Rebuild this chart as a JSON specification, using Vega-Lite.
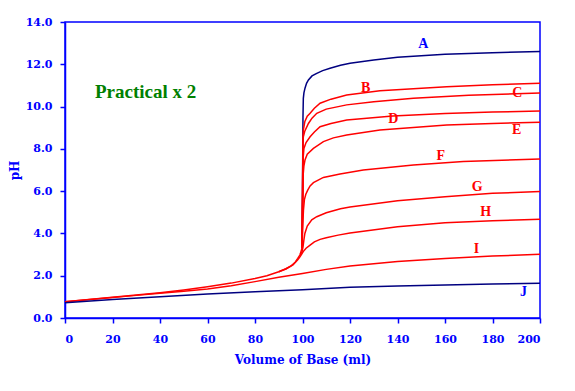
{
  "$schema": "https://vega.github.io/schema/vega-lite/v6.json",
  "width": 475,
  "height": 296,
  "autosize": {"type": "none"},
  "padding": {"left": 65, "top": 22, "right": 35, "bottom": 73},
  "background": "white",
  "config": {
    "view": {"stroke": "#0000ff", "strokeWidth": 1.5},
    "axis": {
      "grid": false,
      "domainColor": "#0000ff",
      "domainWidth": 1.5,
      "tickColor": "#0000ff",
      "tickWidth": 1.5,
      "tickSize": 5,
      "labelColor": "#0000ff",
      "titleColor": "#0000ff",
      "labelFont": "DejaVu Serif",
      "labelFontWeight": "bold",
      "labelFontSize": 11,
      "titleFont": "DejaVu Serif",
      "titleFontWeight": "bold",
      "titleFontSize": 12
    }
  },
  "datasets": {
    "curves": [
      {"s": "base", "x": 0, "y": 0.77}, {"s": "base", "x": 10, "y": 0.87}, {"s": "base", "x": 20, "y": 0.98}, {"s": "base", "x": 30, "y": 1.09}, {"s": "base", "x": 40, "y": 1.2}, {"s": "base", "x": 50, "y": 1.33}, {"s": "base", "x": 60, "y": 1.48}, {"s": "base", "x": 70, "y": 1.65}, {"s": "base", "x": 80, "y": 1.87}, {"s": "base", "x": 85, "y": 2.0}, {"s": "base", "x": 90, "y": 2.19}, {"s": "base", "x": 93, "y": 2.33}, {"s": "base", "x": 95, "y": 2.45}, {"s": "base", "x": 97, "y": 2.65}, {"s": "base", "x": 98, "y": 2.82}, {"s": "base", "x": 99, "y": 3.0}, {"s": "base", "x": 99.8, "y": 3.3},
      {"s": "A", "x": 99.8, "y": 3.3}, {"s": "A", "x": 100.0, "y": 6.0}, {"s": "A", "x": 100.2, "y": 9.5}, {"s": "A", "x": 100.35, "y": 10.39}, {"s": "A", "x": 100.6, "y": 10.65}, {"s": "A", "x": 101.05, "y": 10.87}, {"s": "A", "x": 101.7, "y": 11.1}, {"s": "A", "x": 102.5, "y": 11.26}, {"s": "A", "x": 104, "y": 11.45}, {"s": "A", "x": 106, "y": 11.57}, {"s": "A", "x": 108.5, "y": 11.7}, {"s": "A", "x": 111.6, "y": 11.81}, {"s": "A", "x": 116, "y": 11.95}, {"s": "A", "x": 120, "y": 12.05}, {"s": "A", "x": 130, "y": 12.2}, {"s": "A", "x": 140, "y": 12.33}, {"s": "A", "x": 160, "y": 12.47}, {"s": "A", "x": 180, "y": 12.55}, {"s": "A", "x": 200, "y": 12.6},
      {"s": "B", "x": 99.8, "y": 3.3}, {"s": "B", "x": 100.2, "y": 8.6}, {"s": "B", "x": 100.35, "y": 8.89}, {"s": "B", "x": 101, "y": 9.3}, {"s": "B", "x": 102, "y": 9.55}, {"s": "B", "x": 103.2, "y": 9.68}, {"s": "B", "x": 105, "y": 9.92}, {"s": "B", "x": 107.4, "y": 10.16}, {"s": "B", "x": 112, "y": 10.35}, {"s": "B", "x": 118.6, "y": 10.55}, {"s": "B", "x": 132.6, "y": 10.75}, {"s": "B", "x": 160.7, "y": 10.94}, {"s": "B", "x": 180, "y": 11.03}, {"s": "B", "x": 200, "y": 11.1},
      {"s": "C", "x": 99.8, "y": 3.3}, {"s": "C", "x": 100.2, "y": 8.2}, {"s": "C", "x": 100.35, "y": 8.57}, {"s": "C", "x": 101, "y": 8.85}, {"s": "C", "x": 102.5, "y": 9.2}, {"s": "C", "x": 104, "y": 9.45}, {"s": "C", "x": 106, "y": 9.68}, {"s": "C", "x": 110, "y": 9.88}, {"s": "C", "x": 118.6, "y": 10.08}, {"s": "C", "x": 130, "y": 10.23}, {"s": "C", "x": 146.7, "y": 10.39}, {"s": "C", "x": 170, "y": 10.53}, {"s": "C", "x": 200, "y": 10.64},
      {"s": "D", "x": 99.8, "y": 3.3}, {"s": "D", "x": 100.3, "y": 7.6}, {"s": "D", "x": 100.6, "y": 8.02}, {"s": "D", "x": 101.5, "y": 8.3}, {"s": "D", "x": 103.2, "y": 8.57}, {"s": "D", "x": 105, "y": 8.8}, {"s": "D", "x": 107.4, "y": 9.05}, {"s": "D", "x": 112, "y": 9.2}, {"s": "D", "x": 118.6, "y": 9.36}, {"s": "D", "x": 138, "y": 9.55}, {"s": "D", "x": 160, "y": 9.67}, {"s": "D", "x": 180, "y": 9.74}, {"s": "D", "x": 200, "y": 9.79},
      {"s": "E", "x": 99.8, "y": 3.3}, {"s": "E", "x": 100.3, "y": 6.8}, {"s": "E", "x": 100.6, "y": 7.2}, {"s": "E", "x": 101.05, "y": 7.47}, {"s": "E", "x": 102, "y": 7.75}, {"s": "E", "x": 104.6, "y": 8.02}, {"s": "E", "x": 108.8, "y": 8.34}, {"s": "E", "x": 113, "y": 8.52}, {"s": "E", "x": 118.6, "y": 8.66}, {"s": "E", "x": 132.6, "y": 8.89}, {"s": "E", "x": 160.7, "y": 9.13}, {"s": "E", "x": 180, "y": 9.2}, {"s": "E", "x": 200, "y": 9.26},
      {"s": "F", "x": 99.8, "y": 3.3}, {"s": "F", "x": 100.2, "y": 4.6}, {"s": "F", "x": 100.4, "y": 5.1}, {"s": "F", "x": 100.8, "y": 5.6}, {"s": "F", "x": 101.4, "y": 5.85}, {"s": "F", "x": 102.2, "y": 6.05}, {"s": "F", "x": 103.2, "y": 6.25}, {"s": "F", "x": 104.6, "y": 6.4}, {"s": "F", "x": 108.8, "y": 6.65}, {"s": "F", "x": 115.8, "y": 6.81}, {"s": "F", "x": 125.6, "y": 7.0}, {"s": "F", "x": 146.7, "y": 7.24}, {"s": "F", "x": 167.7, "y": 7.4}, {"s": "F", "x": 200, "y": 7.52},
      {"s": "G", "x": 99, "y": 3.0}, {"s": "G", "x": 99.8, "y": 3.12}, {"s": "G", "x": 100.2, "y": 3.35}, {"s": "G", "x": 100.6, "y": 3.7}, {"s": "G", "x": 101, "y": 4.0}, {"s": "G", "x": 102, "y": 4.35}, {"s": "G", "x": 103.9, "y": 4.64}, {"s": "G", "x": 106, "y": 4.79}, {"s": "G", "x": 110, "y": 4.98}, {"s": "G", "x": 116, "y": 5.17}, {"s": "G", "x": 120, "y": 5.25}, {"s": "G", "x": 140, "y": 5.55}, {"s": "G", "x": 160, "y": 5.74}, {"s": "G", "x": 180, "y": 5.9}, {"s": "G", "x": 200, "y": 5.98},
      {"s": "H", "x": 90, "y": 2.19}, {"s": "H", "x": 93, "y": 2.32}, {"s": "H", "x": 96, "y": 2.51}, {"s": "H", "x": 98, "y": 2.75}, {"s": "H", "x": 99, "y": 2.9}, {"s": "H", "x": 100.3, "y": 3.14}, {"s": "H", "x": 101.5, "y": 3.3}, {"s": "H", "x": 103.2, "y": 3.45}, {"s": "H", "x": 105, "y": 3.6}, {"s": "H", "x": 107.4, "y": 3.72}, {"s": "H", "x": 110, "y": 3.8}, {"s": "H", "x": 115, "y": 3.92}, {"s": "H", "x": 120, "y": 4.02}, {"s": "H", "x": 140, "y": 4.32}, {"s": "H", "x": 160, "y": 4.51}, {"s": "H", "x": 180, "y": 4.6}, {"s": "H", "x": 200, "y": 4.67},
      {"s": "I", "x": 0, "y": 0.77}, {"s": "I", "x": 20, "y": 0.97}, {"s": "I", "x": 30, "y": 1.07}, {"s": "I", "x": 40, "y": 1.17}, {"s": "I", "x": 50, "y": 1.27}, {"s": "I", "x": 60, "y": 1.37}, {"s": "I", "x": 70, "y": 1.53}, {"s": "I", "x": 80, "y": 1.72}, {"s": "I", "x": 90, "y": 1.93}, {"s": "I", "x": 100, "y": 2.11}, {"s": "I", "x": 110, "y": 2.3}, {"s": "I", "x": 120, "y": 2.46}, {"s": "I", "x": 140, "y": 2.67}, {"s": "I", "x": 160, "y": 2.82}, {"s": "I", "x": 180, "y": 2.93}, {"s": "I", "x": 200, "y": 3.01},
      {"s": "J", "x": 0, "y": 0.72}, {"s": "J", "x": 20, "y": 0.88}, {"s": "J", "x": 40, "y": 1.01}, {"s": "J", "x": 60, "y": 1.13}, {"s": "J", "x": 80, "y": 1.24}, {"s": "J", "x": 100, "y": 1.34}, {"s": "J", "x": 120, "y": 1.45}, {"s": "J", "x": 140, "y": 1.51}, {"s": "J", "x": 160, "y": 1.56}, {"s": "J", "x": 180, "y": 1.61}, {"s": "J", "x": 200, "y": 1.64}
    ],
    "labels": [
      {"t": "A", "x": 150.9, "y": 12.96, "c": "blue"},
      {"t": "B", "x": 126.6, "y": 10.86, "c": "red"},
      {"t": "C", "x": 190.4, "y": 10.66, "c": "red"},
      {"t": "D", "x": 138.2, "y": 9.41, "c": "red"},
      {"t": "E", "x": 190.2, "y": 8.89, "c": "red"},
      {"t": "F", "x": 158.2, "y": 7.66, "c": "red"},
      {"t": "G", "x": 173.6, "y": 6.18, "c": "red"},
      {"t": "H", "x": 177.1, "y": 4.99, "c": "red"},
      {"t": "I", "x": 173.3, "y": 3.26, "c": "red"},
      {"t": "J", "x": 193, "y": 1.25, "c": "blue"}
    ],
    "title": [
      {"t": "Practical x 2", "x": 12.6, "y": 10.69}
    ]
  },
  "layer": [
    {
      "data": {"name": "curves"},
      "transform": [{"filter": "datum.s === 'A'"}],
      "mark": {"type": "line", "color": "#000080", "strokeWidth": 1.5, "interpolate": "linear"},
      "encoding": {
        "x": {"field": "x", "type": "quantitative", "scale": {"domain": [0, 200]}, "axis": {"values": [0, 20, 40, 60, 80, 100, 120, 140, 160, 180, 200], "title": "Volume of Base (ml)", "labelPadding": 10, "titlePadding": 10}},
        "y": {"field": "y", "type": "quantitative", "scale": {"domain": [0, 14]}, "axis": {"values": [0, 2, 4, 6, 8, 10, 12, 14], "format": ".1f", "title": "pH", "labelPadding": 8, "titlePadding": 4}}
      }
    },
    {
      "data": {"name": "curves"},
      "transform": [{"filter": "datum.s !== 'A' && datum.s !== 'J'"}],
      "mark": {"type": "line", "color": "#ff0000", "strokeWidth": 1.5},
      "encoding": {
        "x": {"field": "x", "type": "quantitative"},
        "y": {"field": "y", "type": "quantitative"},
        "detail": {"field": "s"}
      }
    },
    {
      "data": {"name": "curves"},
      "transform": [{"filter": "datum.s === 'J'"}],
      "mark": {"type": "line", "color": "#000080", "strokeWidth": 1.5},
      "encoding": {
        "x": {"field": "x", "type": "quantitative"},
        "y": {"field": "y", "type": "quantitative"}
      }
    },
    {
      "data": {"name": "labels"},
      "mark": {"type": "text", "font": "Liberation Serif", "fontWeight": "bold", "fontSize": 14, "align": "center", "baseline": "middle"},
      "encoding": {
        "x": {"field": "x", "type": "quantitative"},
        "y": {"field": "y", "type": "quantitative"},
        "text": {"field": "t"},
        "color": {"field": "c", "type": "nominal", "scale": {"domain": ["blue", "red"], "range": ["#0000ff", "#ff0000"]}, "legend": null}
      }
    },
    {
      "data": {"name": "title"},
      "mark": {"type": "text", "font": "Liberation Serif", "fontWeight": "bold", "fontSize": 19, "align": "left", "baseline": "middle", "color": "#008000"},
      "encoding": {
        "x": {"field": "x", "type": "quantitative"},
        "y": {"field": "y", "type": "quantitative"},
        "text": {"field": "t"}
      }
    }
  ]
}
